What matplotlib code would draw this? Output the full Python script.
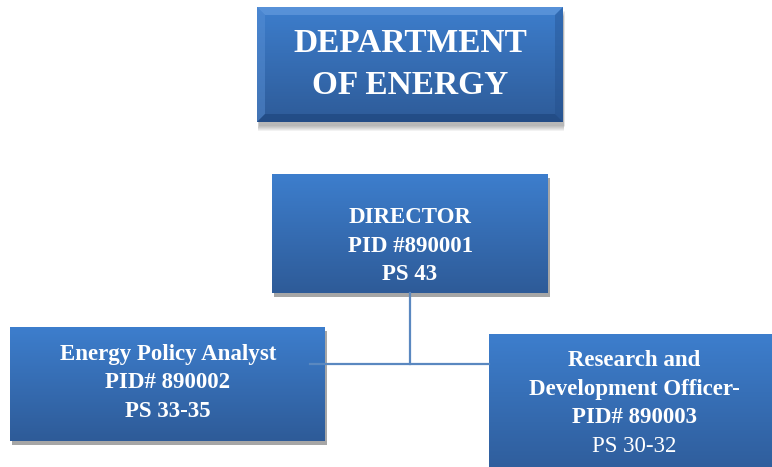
import numpy as np
import matplotlib
matplotlib.use("Agg")
import matplotlib.pyplot as plt
from matplotlib.colors import LinearSegmentedColormap
from matplotlib.patches import Rectangle, Polygon

# org chart content
title_lines = ["DEPARTMENT", "OF ENERGY"]
director_lines = ["DIRECTOR", "PID #890001", "PS 43"]
analyst_lines = ["Energy Policy Analyst", "PID# 890002", "PS 33-35"]
officer_lines = ["Research and", "Development Officer-", "PID# 890003", "PS 30-32"]
officer_bold = [True, True, True, False]

W, H = 772, 467
fig = plt.figure(figsize=(W / 100, H / 100), dpi=100)
ax = fig.add_axes([0, 0, 1, 1])
ax.set_xlim(0, W)
ax.set_ylim(H, 0)
ax.axis("off")

grad = LinearSegmentedColormap.from_list("blu", ["#3d7ecd", "#2e5b98"])
col = np.linspace(0, 1, 256).reshape(-1, 1)
SERIF = ["Liberation Serif", "DejaVu Serif"]


def gbox(x0, y0, x1, y1, shadow=True, z=2):
    if shadow:
        ax.add_patch(Rectangle((x0 + 2, y0 + 4), x1 - x0, y1 - y0,
                               color="#a6a6a6", zorder=z - 1, lw=0))
    ax.imshow(col, cmap=grad, extent=(x0, x1, y1, y0), aspect="auto",
              origin="upper", zorder=z, interpolation="bilinear")


def lines_text(cx, cy, lines, size, step, bold=None):
    n = len(lines)
    for i, s in enumerate(lines):
        w = "bold" if (bold is None or bold[i]) else "normal"
        y = cy + (i - (n - 1) / 2) * step
        ax.text(cx, y, s, ha="center", va="center", color="white",
                fontsize=size, fontweight=w, family=SERIF, zorder=6)


# title box with bevel and soft shadow
tx0, ty0, tx1, ty1 = 257, 7, 563, 122
for k in range(6):
    ax.add_patch(Rectangle((tx0 + 2 - k * 0.3, ty0 + 4 + k), tx1 - tx0, ty1 - ty0,
                           color="#000000", alpha=0.05, lw=0, zorder=1))
gbox(tx0, ty0, tx1, ty1, shadow=False, z=2)
b = 8
ax.add_patch(Polygon([(tx0, ty0), (tx1, ty0), (tx1 - b, ty0 + b), (tx0 + b, ty0 + b)],
                     color="#6fa3e3", alpha=0.55, lw=0, zorder=3))
ax.add_patch(Polygon([(tx0, ty0), (tx0 + b, ty0 + b), (tx0 + b, ty1 - b), (tx0, ty1)],
                     color="#5c93d8", alpha=0.45, lw=0, zorder=3))
ax.add_patch(Polygon([(tx1, ty0), (tx1, ty1), (tx1 - b, ty1 - b), (tx1 - b, ty0 + b)],
                     color="#1f4a86", alpha=0.35, lw=0, zorder=3))
ax.add_patch(Polygon([(tx0, ty1), (tx0 + b, ty1 - b), (tx1 - b, ty1 - b), (tx1, ty1)],
                     color="#1a3f75", alpha=0.5, lw=0, zorder=3))
lines_text(410, 64.5, title_lines, 24, 43)

# position boxes
gbox(272, 174, 548, 293)
lines_text(410, 246, director_lines, 16.5, 28.5)

gbox(10, 327, 325, 441)
lines_text(168, 383, analyst_lines, 16.5, 28.5)

gbox(489, 334, 779, 480, shadow=False)
lines_text(634, 403.5, officer_lines, 16.5, 28.5, officer_bold)

# connectors
ax.plot([410, 410], [293, 364], color="#5a88c0", lw=1.6, zorder=5)
ax.plot([310, 489], [364, 364], color="#5a88c0", lw=1.6, zorder=5)

ax.set_xlim(0, W)
ax.set_ylim(H, 0)
fig.savefig("out.png", dpi=100)
